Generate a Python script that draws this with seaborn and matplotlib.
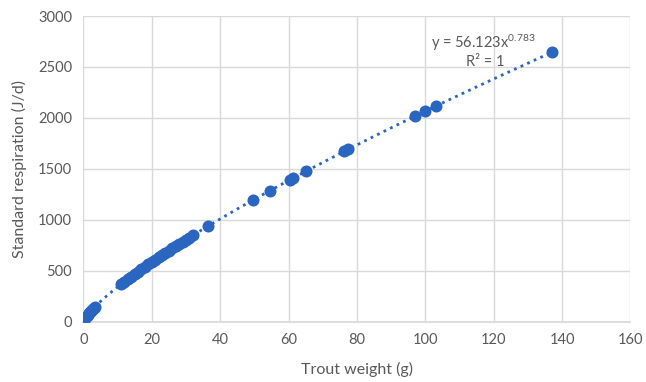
import numpy as np
import pandas as pd
import matplotlib
matplotlib.use("Agg")
import matplotlib.pyplot as plt
import seaborn as sns

# trout weight (g) and standard respiration (J/d)
weight = [0.5, 0.8, 1.0, 1.3, 1.6, 1.9, 2.2, 2.5, 2.8, 3.1, 3.4,
          11, 12, 13, 14, 15, 16, 17, 18, 19, 20, 21, 22, 23, 24, 25, 26,
          27, 28, 29, 30, 31, 32,
          36.5, 49.5, 54.5, 60.5, 61.2, 65, 76.3, 77.5, 97, 100, 103, 137]
respiration = [33, 47, 56, 69, 81, 93, 104, 115, 126, 136, 146,
               367, 393, 418, 443, 468, 492, 516, 540, 563, 586, 609, 631, 654, 676, 698, 720,
               741, 763, 784, 805, 826, 846,
               938, 1191, 1285, 1394, 1406, 1475, 1672, 1693, 2017, 2066, 2115, 2645]

# power trendline coefficients shown on the chart
coef_a = 56.123
coef_b = 0.783

x_ticks = [0, 20, 40, 60, 80, 100, 120, 140, 160]
y_ticks = [0, 500, 1000, 1500, 2000, 2500, 3000]

blue = "#2A65C0"
grey_text = "#595959"
grid_col = "#D9D9D9"

sns.set_theme(style="whitegrid")
plt.rcParams["font.family"] = ["Lato", "DejaVu Sans"]
plt.rcParams["mathtext.default"] = "regular"

df = pd.DataFrame({"weight": weight, "respiration": respiration})

fig = plt.figure(figsize=(6.46, 3.82), dpi=100)
ax = fig.add_axes([0.129, 0.158, 0.847, 0.800])

xs = np.linspace(min(weight), max(weight), 300)
ax.plot(xs, coef_a * xs ** coef_b, linestyle=(0, (1, 1.6)), color=blue, lw=2, zorder=2)

sns.scatterplot(data=df, x="weight", y="respiration", ax=ax, color=blue,
                s=75, edgecolor=blue, linewidth=0, zorder=3)

ax.set_xlim(0, 160)
ax.set_ylim(0, 3000)
ax.set_xticks(x_ticks)
ax.set_yticks(y_ticks)
ax.grid(True, color=grid_col, lw=1)
for side in ["top", "right", "left"]:
    ax.spines[side].set_visible(False)
ax.spines["bottom"].set_color(grid_col)
ax.tick_params(axis="both", colors=grey_text, labelsize=10.5, length=0, pad=8)
ax.set_xlabel("Trout weight (g)", color=grey_text, fontsize=11.5, labelpad=11)
ax.set_ylabel("Standard respiration (J/d)", color=grey_text, fontsize=11.5, labelpad=8)

ax.text(117, 2735, "y = 56.123x$^{0.783}$", color=grey_text, fontsize=10.5, ha="center", va="center")
ax.text(117.5, 2548, "R² = 1", color=grey_text, fontsize=10.5, ha="center", va="center")

fig.savefig("out.png", dpi=100)
